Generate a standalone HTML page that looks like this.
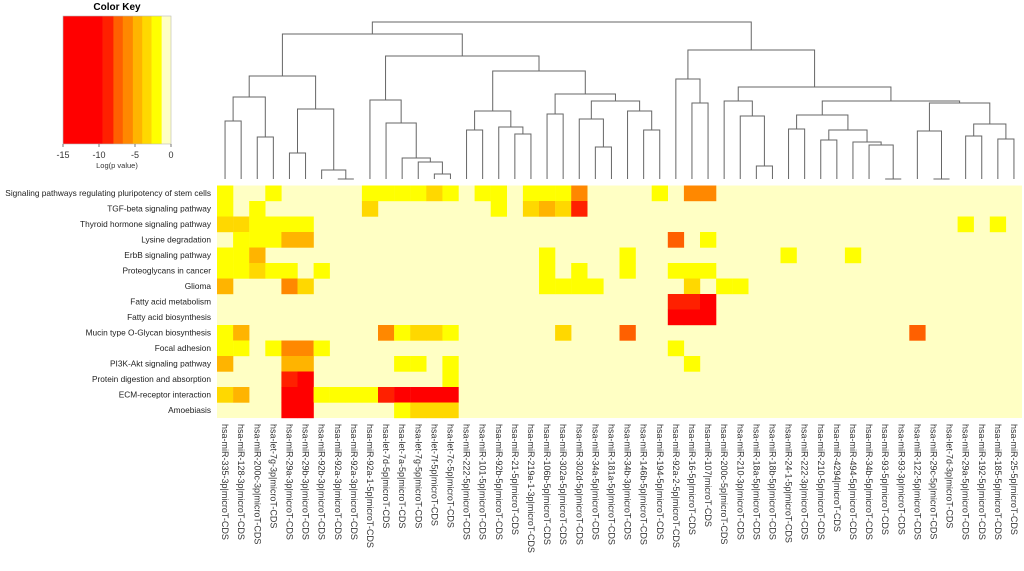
<!DOCTYPE html>
<html><head><meta charset="utf-8"><style>
html,body{margin:0;padding:0;background:#fff;}
svg{display:block;font-family:"Liberation Sans",sans-serif;}
</style></head><body>
<svg id="chart" width="1024" height="571" viewBox="0 0 1024 571">
  <g id="key">
    <text x="117" y="10" font-size="10" font-weight="bold" text-anchor="middle">Color Key</text>
  </g>
  <g id="dendro"></g>
  <g id="cells"></g>
  <g id="rowlabels"></g>
  <g id="collabels"></g>
</svg>
<script>
const rowNames = ["Signaling pathways regulating pluripotency of stem cells","TGF-beta signaling pathway","Thyroid hormone signaling pathway","Lysine degradation","ErbB signaling pathway","Proteoglycans in cancer","Glioma","Fatty acid metabolism","Fatty acid biosynthesis","Mucin type O-Glycan biosynthesis","Focal adhesion","PI3K-Akt signaling pathway","Protein digestion and absorption","ECM-receptor interaction","Amoebiasis"];
const colNames = ["hsa-miR-335-3p","hsa-miR-128-3p","hsa-miR-200c-3p","hsa-let-7g-3p","hsa-miR-29a-3p","hsa-miR-29b-3p","hsa-miR-92b-3p","hsa-miR-92a-3p","hsa-miR-92a-3p","hsa-miR-92a-1-5p","hsa-let-7d-5p","hsa-let-7a-5p","hsa-let-7g-5p","hsa-let-7f-5p","hsa-let-7c-5p","hsa-miR-222-5p","hsa-miR-101-5p","hsa-miR-92b-5p","hsa-miR-21-5p","hsa-miR-219a-1-3p","hsa-miR-106b-5p","hsa-miR-302a-5p","hsa-miR-302d-5p","hsa-miR-34a-5p","hsa-miR-181a-5p","hsa-miR-34b-3p","hsa-miR-146b-5p","hsa-miR-194-5p","hsa-miR-92a-2-5p","hsa-miR-16-5p","hsa-miR-107","hsa-miR-200c-5p","hsa-miR-210-3p","hsa-miR-18a-5p","hsa-miR-18b-5p","hsa-miR-24-1-5p","hsa-miR-222-3p","hsa-miR-210-5p","hsa-miR-4294","hsa-miR-494-5p","hsa-miR-34b-5p","hsa-miR-93-5p","hsa-miR-93-3p","hsa-miR-122-5p","hsa-miR-29c-5p","hsa-let-7d-3p","hsa-miR-29a-5p","hsa-miR-192-5p","hsa-miR-185-5p","hsa-miR-25-5p"];
// log(p value) per row: {columnIndex: value}; unlisted = 0
const logP = [
 {0:-2,3:-2,9:-2,10:-2,11:-2,12:-2,13:-3.3,14:-2,16:-2,17:-2,19:-2,20:-2,21:-2,22:-6,27:-2,29:-6,30:-6},
 {0:-2,2:-2,9:-3.3,17:-2,19:-3.3,20:-4.6,21:-3.3,22:-8.5},
 {0:-3.8,1:-3.8,2:-2,3:-2,4:-2,5:-2,46:-2,48:-2},
 {1:-2,2:-2,3:-2,4:-4.6,5:-4.6,28:-7.2,30:-2},
 {0:-2,1:-2,2:-4.6,20:-2,25:-2,35:-2,39:-2},
 {0:-2,1:-2,2:-3.3,3:-2,4:-2,6:-2,20:-2,22:-2,25:-2,28:-2,29:-2,30:-2},
 {0:-4.6,4:-6,5:-3.3,20:-2,21:-2,22:-2,23:-2,29:-3.3,31:-2,32:-2},
 {28:-9,29:-9,30:-11},
 {28:-12,29:-12,30:-12},
 {0:-2,1:-4.6,10:-6,11:-2,12:-3.3,13:-3.3,14:-2,21:-3.3,25:-7.2,43:-7.5},
 {0:-2,1:-2,3:-2,4:-6,5:-6,6:-2,28:-2},
 {0:-4.6,4:-4.6,5:-4.6,11:-2,12:-2,14:-2,29:-2},
 {4:-9,5:-12,14:-2},
 {0:-3.3,1:-4.6,4:-12,5:-12,6:-2,7:-2,8:-2,9:-2,10:-8.5,11:-12,12:-12,13:-12,14:-12},
 {4:-12,5:-12,11:-2,12:-3.3,13:-3.3,14:-3.3}
];
const keyBreaks = [-9.5,-8,-6.7,-5.3,-4,-2.7,-1.3];
const keyColors = ["#FF0000","#FF2000","#FF6000","#FF8800","#FFB400","#FFD800","#FFFF00","#FFFFC4"];
const keyTicks = [-15,-10,-5,0];
// dendrogram merges: [left, right, height]; negative id -k-1 refers to merge k
const merges = [
 [0,1,58],[2,3,42],[-1,-2,82],[4,5,26],[7,8,0],[6,-5,9],[-4,-6,70],[-3,-7,103],
 [13,14,5],[12,-9,17],[11,-10,21],[10,-11,56],[9,-12,79],
 [15,16,49],[18,19,45],[17,-15,52],[-14,-16,68],
 [20,21,65],[23,24,32],[22,-19,60],[26,27,49],[25,-21,68],[-20,-22,78],[-18,-23,85],
 [-17,-24,108],[-13,-25,123],[-8,-26,145],
 [29,30,76],[28,-28,100],[33,34,13],[32,-30,63],[31,-31,78],
 [35,36,50],[37,38,39],[41,42,0],[40,-35,34],[39,-36,37],[-34,-37,49],[-33,-38,64],
 [44,45,0],[43,-40,48],[46,47,43],[48,49,40],[-42,-43,55],[-41,-44,76],[-39,-45,78],
 [-32,-46,92],[-29,-47,129],[-27,-48,157]
];

const NS="http://www.w3.org/2000/svg";
const x0=217, cw=16.1, y0=185.5, rh=15.5, baseY=179;
const xCol = c => x0 + c*cw;
const yRow = r => y0 + r*rh;
const yH = h => baseY - h;
function colorFor(v){let i=0;while(i<keyBreaks.length && v>=keyBreaks[i]) i++;return keyColors[i];}
function mk(tag,attrs,parent){const e=document.createElementNS(NS,tag);for(const k in attrs)e.setAttribute(k,attrs[k]);parent.appendChild(e);return e;}

// color key
const key=document.getElementById('key');
const kx0=63,kx1=171,ky0=16,ky1=144;
const kx = v => kx0 + (v+15)/15*(kx1-kx0);
const bandEdges=[-15,...keyBreaks,0];
for(let i=0;i<keyColors.length;i++){
  const b=mk('rect',{x:kx(bandEdges[i]),y:ky0,width:kx(bandEdges[i+1])-kx(bandEdges[i])+0.3,height:ky1-ky0,fill:keyColors[i]},key);
  
  
}
mk('rect',{x:kx0,y:ky0,width:kx1-kx0,height:ky1-ky0,fill:'none',stroke:'#bbb','stroke-width':0.6},key);
keyTicks.forEach(t=>{
  mk('line',{x1:kx(t),x2:kx(t),y1:ky1,y2:ky1+3,stroke:'#555','stroke-width':0.8},key);
  const tt=mk('text',{x:kx(t),y:158,'font-size':9,'text-anchor':'middle',fill:'#333'},key);
  tt.textContent=t;
  
  
});
const kl=mk('text',{x:117,y:168,'font-size':7.5,'text-anchor':'middle',fill:'#333'},key);
kl.textContent='Log(p value)';



// cells
const cells=document.getElementById('cells');
mk('rect',{x:x0,y:y0,width:colNames.length*cw,height:rowNames.length*rh,fill:keyColors[keyColors.length-1]},cells);
logP.forEach((row,r)=>{
  for(const c in row){
    const cell=mk('rect',{x:xCol(+c),y:yRow(r),width:cw+0.2,height:rh+0.2,fill:colorFor(row[c])},cells);
    
    
  }
});

// row labels
const rl=document.getElementById('rowlabels');
rowNames.forEach((n,r)=>{
  const t=mk('text',{x:211,y:yRow(r)+rh/2+2.8,'font-size':8.3,'text-anchor':'end',fill:'#222'},rl);
  t.textContent=n;
  
  
});

// column labels
const cl=document.getElementById('collabels');
colNames.forEach((n,c)=>{
  const cx=xCol(c)+cw/2;
  const t=mk('text',{transform:`translate(${cx-3},424) rotate(90)`,'font-size':9,fill:'#333'},cl);
  t.textContent=n+'|microT-CDS';
  
  
});

// dendrogram
const dg=document.getElementById('dendro');
const nodeX=[],nodeH=[];
function pos(id){return id>=0?[xCol(id)+cw/2,0]:[nodeX[-id-1],nodeH[-id-1]];}
merges.forEach((m,k)=>{
  const [a,b,h]=m;
  const [xa,ha]=pos(a),[xb,hb]=pos(b);
  nodeX[k]=(xa+xb)/2; nodeH[k]=h;
  const p=mk('path',{d:`M${xa},${yH(ha)}V${yH(h)}H${xb}V${yH(hb)}`,fill:'none',stroke:'#666','stroke-width':1},dg);
  
  
});
</script>
</body></html>
